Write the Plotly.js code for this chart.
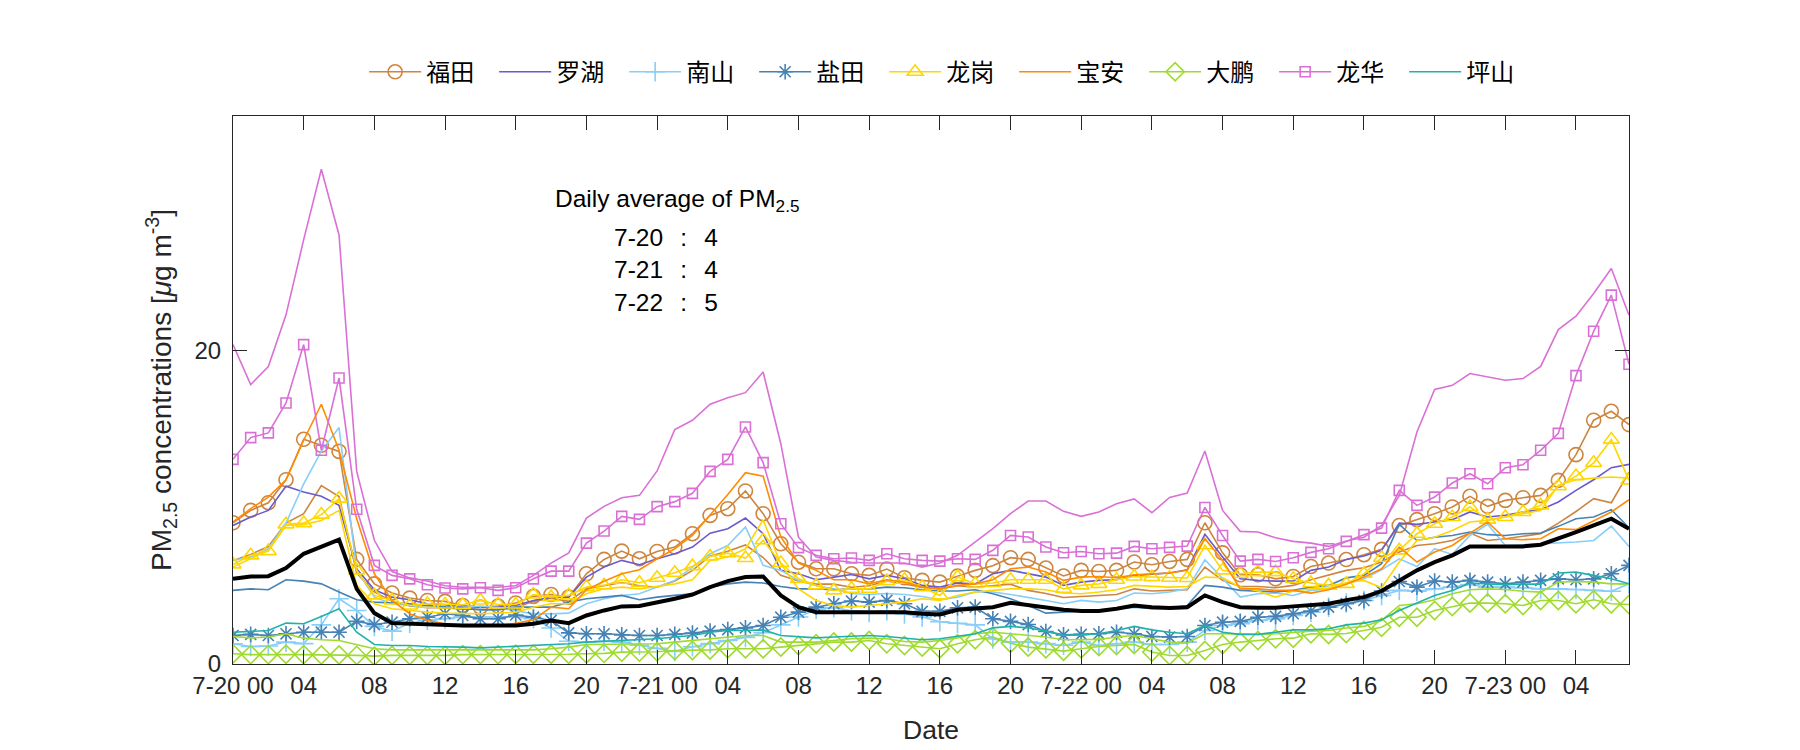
<!DOCTYPE html>
<html>
<head>
<meta charset="utf-8">
<script src="https://cdn.plot.ly/plotly-3.0.1.min.js"></script>
<style>html,body{margin:0;padding:0;background:#fff;}</style>
</head>
<body>
<div id="chart" style="width:1800px;height:750px;"></div>
<script>
// Hourly index from 7-20 00:00 to 7-23 07:00 (80 hours)
const hours = Array.from({length: 80}, (_, i) => i);
const tickHours = [0,4,8,12,16,20,24,28,32,36,40,44,48,52,56,60,64,68,72,76];
const tickLabels = ['7-20 00','04','08','12','16','20','7-21 00','04','08','12','16','20','7-22 00','04','08','12','16','20','7-23 00','04'];

const futianA = [9.02,9.81,10.3,11.77,14.35,13.97,13.58,6.68,5.12,4.53,4.21,4.06,4.0,3.74,3.63,3.7,3.9,4.32,4.44,4.27,5.76,6.68,7.21,6.72,7.19,7.47,8.32,9.49,9.92,11.05,9.6,7.68,6.5,6.08,6.08,5.76,5.66,6.06,5.51,5.34,5.23,5.61,5.98,6.28,6.79,6.68,6.13,5.62,5.98,5.91,5.98,6.51,6.34,6.55,6.68,9.02,7.1,5.7,5.7,5.44,5.59,6.23,6.45,6.67,6.98,7.32,8.85,9.22,9.6,10.03,10.71,10.07,10.45,10.62,10.77,11.73,13.37,15.57,16.14,15.29];
const futianB = [6.6,7.0,7.5,9.0,9.6,11.4,10.7,5.8,4.6,4.0,3.7,3.6,3.6,3.5,3.5,3.5,3.6,4.0,4.2,4.0,4.8,5.0,5.2,5.0,4.9,5.3,5.98,6.9,7.2,7.6,6.8,5.66,5.3,5.1,5.1,4.9,5.0,5.3,5.1,4.9,4.8,5.0,4.9,5.0,5.1,4.7,4.5,4.25,4.3,4.38,4.44,4.8,4.66,4.7,4.74,6.19,5.34,4.95,4.95,4.87,5.02,5.38,5.66,5.98,6.15,6.51,7.15,7.57,7.68,7.89,8.36,7.89,8.0,8.15,8.32,9.0,9.74,10.56,10.3,12.26];
const luohu = [8.85,9.39,9.81,11.35,10.99,10.71,10.13,6.08,4.74,4.27,4.1,3.85,3.78,3.63,3.63,3.63,3.74,4.06,4.27,4.27,5.55,6.19,6.62,6.34,6.72,7.04,7.47,8.36,8.64,9.32,8.32,5.98,5.76,5.38,5.55,5.72,5.44,5.66,5.44,5.02,4.91,5.17,5.12,5.76,5.98,5.76,5.55,5.02,5.23,5.34,5.38,5.66,5.72,5.81,6.02,8.28,6.83,5.44,5.34,5.29,5.29,5.98,6.19,6.67,6.9,7.26,9.0,8.92,9.07,9.22,9.71,9.39,9.5,9.71,9.86,10.35,11.09,11.77,12.54,12.75];
const nanshanA = [1.29,1.12,1.15,1.4,1.3,2.5,4.17,3.42,2.4,2.1,2.6,2.8,2.9,3.0,3.0,3.0,3.0,2.9,2.3,1.45,1.4,1.45,1.4,1.2,1.0,0.8,1.1,1.3,1.5,1.7,2.0,2.5,3.0,3.5,3.6,3.4,3.3,3.4,3.2,3.0,2.7,2.6,2.5,1.6,1.4,1.4,1.3,1.2,1.4,1.18,1.29,1.4,1.25,1.25,1.4,2.14,2.46,2.57,2.78,2.88,3.1,3.31,3.63,3.9,4.06,4.38,4.7,4.65,4.8,4.91,5.08,4.91,4.91,4.87,4.8,4.8,4.76,4.7,4.65,5.12];
const nanshanB = [6.62,6.83,7.36,9.0,11.5,13.6,15.1,5.98,4.27,3.85,3.74,3.63,3.63,3.6,3.7,3.6,3.4,3.2,3.2,3.25,3.85,4.17,4.38,4.49,4.91,5.34,6.19,7.04,7.57,8.75,6.3,5.98,5.34,5.0,4.8,4.5,4.44,4.5,4.44,4.31,4.1,4.27,4.6,4.6,4.44,4.27,4.06,3.85,4.06,3.95,4.06,4.53,4.49,4.6,4.8,6.66,5.44,4.27,4.49,4.53,4.38,4.7,4.8,5.1,5.44,6.02,6.72,6.23,7.36,7.0,8.21,8.92,7.57,7.62,7.68,7.72,7.79,7.89,8.81,7.51];
const yantianA = [1.82,1.89,1.82,1.93,2.03,2.03,2.03,2.72,2.52,2.67,2.89,2.99,3.21,3.1,2.89,2.89,3.13,2.99,2.78,1.99,1.93,1.93,1.86,1.82,1.82,1.89,1.97,2.1,2.2,2.31,2.46,2.99,3.31,3.63,3.85,4.02,3.95,4.06,3.85,3.36,3.36,3.59,3.63,2.89,2.72,2.52,2.08,1.86,1.89,1.93,2.03,1.93,1.76,1.72,1.76,2.46,2.67,2.72,2.99,3.04,3.21,3.38,3.63,3.85,4.06,4.66,5.27,4.91,5.3,5.23,5.34,5.23,5.12,5.23,5.34,5.44,5.38,5.44,5.76,6.3];
const yantianB = [4.7,4.8,4.74,5.38,5.29,5.12,4.6,4.1,3.95,3.89,3.85,3.74,3.63,3.57,3.46,3.46,3.63,3.63,3.63,3.95,4.17,4.27,4.38,4.1,4.27,4.38,4.49,4.91,5.12,5.23,5.17,4.95,4.8,4.8,4.74,4.8,4.8,4.91,4.87,4.74,4.66,4.66,4.74,4.49,4.17,3.74,3.25,3.31,3.38,3.42,3.53,3.63,3.53,3.57,3.74,5.02,4.91,4.7,4.66,4.6,4.7,4.91,5.02,5.5,5.66,6.4,8.92,7.89,8.1,8.21,8.43,8.26,8.21,8.32,8.36,8.79,9.28,9.39,9.86,8.7];
const longgangA = [6.36,6.94,7.21,8.92,9.0,9.54,10.56,5.98,4.38,4.06,3.74,3.85,3.8,3.78,4.06,3.8,3.8,4.44,4.27,4.38,4.91,5.02,5.38,5.19,5.51,5.83,6.25,6.87,7.08,6.77,7.9,6.45,5.44,5.02,4.7,4.8,4.8,5.29,5.38,4.91,4.38,5.55,5.12,5.17,5.38,5.38,5.38,4.8,5.02,5.12,5.38,5.59,5.55,5.51,5.49,7.58,5.98,5.76,5.87,5.87,5.44,5.17,5.02,5.12,5.76,6.79,7.26,8.32,8.96,9.39,10.03,9.22,9.39,9.71,10.13,11.35,12.0,12.85,14.33,11.73];
const longgangB = [6.2,6.72,7.25,8.85,8.9,9.17,9.81,5.02,3.85,3.53,3.42,3.31,3.25,3.21,3.21,3.25,3.31,3.63,3.85,3.85,4.49,4.8,4.91,4.8,4.95,5.12,5.38,6.62,6.83,7.36,9.2,6.4,4.8,4.06,3.74,3.63,3.74,3.85,3.95,4.17,4.06,4.38,4.6,4.7,4.8,4.8,4.74,4.53,4.49,4.6,4.74,5.02,4.95,4.91,4.95,5.55,5.51,4.91,4.66,4.27,4.66,4.8,4.87,5.2,5.34,4.87,6.51,7.89,8.1,8.53,9.07,9.17,9.39,9.6,9.81,11.41,11.77,11.87,11.94,11.87];
const baoan = [9.07,9.92,10.66,11.77,14.29,16.59,13.65,9.28,5.76,4.06,3.21,2.78,2.57,2.4,2.4,2.46,2.6,2.82,3.63,3.53,4.74,5.29,5.76,6.02,6.72,7.36,8.21,9.49,10.83,12.22,12.0,8.11,6.45,5.98,5.38,5.38,5.12,5.38,5.23,4.91,4.8,5.02,5.12,5.38,6.08,6.19,5.87,5.34,5.55,5.59,5.51,5.7,5.76,5.81,5.98,8.0,6.62,4.8,4.8,4.7,4.7,4.53,4.74,5.1,5.55,6.08,7.47,6.51,7.15,7.57,8.36,9.07,8.0,7.94,8.0,8.64,8.58,9.17,9.71,10.49];
const dapengA = [0.65,0.6,0.6,0.62,0.6,0.58,0.58,0.55,0.5,0.55,0.55,0.55,0.55,0.6,0.6,0.6,0.62,0.62,0.62,0.62,0.65,0.68,0.76,0.76,0.78,0.86,0.86,0.9,0.97,0.97,0.97,1.08,1.18,1.29,1.4,1.4,1.5,1.29,1.18,1.08,0.97,1.29,1.55,1.72,1.33,1.08,0.97,0.82,0.97,1.12,1.18,1.25,0.76,0.54,0.54,0.86,1.25,1.4,1.5,1.61,1.65,1.93,1.89,1.95,2.14,2.35,2.99,2.99,3.42,3.67,3.89,3.89,3.85,3.74,4.06,4.06,3.85,4.1,3.85,3.8];
const dapengB = [1.76,1.67,1.72,1.93,1.65,1.55,1.5,1.25,0.97,0.9,0.9,0.9,0.88,0.88,0.88,0.9,0.9,0.9,0.97,1.08,1.25,1.25,1.29,1.29,1.29,1.4,1.5,1.61,1.72,1.82,1.82,1.4,1.4,1.4,1.5,1.61,1.65,1.61,1.44,1.4,1.5,1.67,1.93,2.03,1.93,1.82,1.72,1.55,1.55,1.57,1.72,1.82,1.61,1.4,1.33,1.93,1.93,1.89,1.89,1.93,2.03,2.1,2.14,2.3,2.4,2.78,3.74,3.85,4.1,4.49,4.74,4.8,4.76,4.65,4.59,5.23,5.27,5.23,5.12,5.12];
const longhuaA = [13.07,14.46,14.76,16.67,20.4,13.65,18.27,9.88,6.3,5.66,5.44,5.06,4.85,4.8,4.87,4.7,4.87,5.44,5.93,5.93,7.72,8.49,9.43,9.24,10.05,10.37,10.9,12.3,13.07,15.14,12.86,8.96,7.43,6.94,6.72,6.77,6.62,7.04,6.72,6.62,6.57,6.72,6.68,7.26,8.21,8.11,7.47,7.11,7.19,7.04,7.08,7.51,7.36,7.45,7.53,10.0,8.21,6.57,6.68,6.55,6.79,7.13,7.36,7.83,8.26,8.68,11.09,10.13,10.66,11.56,12.15,11.51,12.53,12.73,13.65,14.73,18.42,21.25,23.56,19.14];
const longhuaB = [20.4,17.85,19.0,22.3,27.1,31.6,27.4,12.3,7.9,5.9,5.5,5.3,5.0,4.9,4.9,4.9,5.0,5.66,6.44,7.1,9.32,10.07,10.62,10.77,12.33,14.97,15.57,16.59,17.01,17.33,18.65,14.07,8.1,6.83,6.62,6.5,6.45,6.45,6.45,6.19,6.45,6.94,7.79,8.64,9.6,10.41,10.41,9.75,9.43,9.71,10.24,10.54,9.66,10.64,10.92,13.6,9.81,8.47,8.43,8.06,7.83,7.72,7.51,7.85,8.1,8.85,10.77,14.82,17.53,17.8,18.55,18.34,18.12,18.23,19.01,21.36,22.21,23.66,25.26,22.28];
const pingshan = [2.03,2.1,2.14,2.61,2.57,3.04,3.53,2.03,1.25,1.18,1.18,1.12,1.12,1.08,1.03,1.08,1.12,1.18,1.23,1.29,1.4,1.46,1.5,1.55,1.61,1.72,1.82,2.03,2.14,2.14,2.18,1.82,1.76,1.67,1.72,1.76,1.82,1.76,1.65,1.55,1.61,1.76,1.93,2.31,2.4,2.31,2.1,1.84,1.86,1.93,2.14,2.4,2.18,2.03,1.93,2.46,2.03,1.89,1.89,2.03,2.18,2.18,2.25,2.5,2.61,2.82,3.42,3.89,4.38,4.7,5.17,5.12,5.06,5.1,5.1,5.81,5.87,5.66,5.44,5.12];
const average = [5.44,5.59,5.61,6.13,7.04,7.47,7.94,4.8,3.25,2.61,2.57,2.5,2.5,2.46,2.46,2.46,2.46,2.57,2.78,2.61,3.1,3.42,3.68,3.7,3.91,4.17,4.44,4.91,5.29,5.55,5.59,4.38,3.63,3.31,3.31,3.31,3.27,3.31,3.31,3.21,3.16,3.46,3.53,3.63,3.91,3.74,3.63,3.46,3.38,3.38,3.53,3.74,3.63,3.57,3.63,4.38,3.95,3.63,3.59,3.59,3.68,3.74,3.85,4.08,4.27,4.66,5.34,5.98,6.51,6.94,7.51,7.51,7.47,7.51,7.62,8.0,8.43,8.85,9.28,8.64];

const dailyNote = ['7-20\u2002\u2009:\u2002\u20094', '7-21\u2002\u2009:\u2002\u20094', '7-22\u2002\u2009:\u2002\u20095'];

const FONT = 'Liberation Sans, Arial, Noto Sans CJK SC, sans-serif';
const AX = '#262626';

function tr(name, y, color, opts) {
  opts = opts || {};
  const t = {
    x: hours, y: y, name: name, type: 'scatter',
    mode: opts.symbol ? 'lines+markers' : 'lines',
    line: {color: color, width: opts.width || 1.6},
    showlegend: opts.legend !== false,
    hoverinfo: 'x+y+name'
  };
  if (opts.symbol) {
    t.marker = {symbol: opts.symbol, size: opts.size || 13, color: color,
                line: {color: color, width: 1.6}};
  }
  return t;
}

const C = {
  futian: '#CD853F', luohu: '#6A5ACD', nanshan: '#87CEFA', yantian: '#4682B4',
  longgang: '#FFD700', baoan: '#FF8C00', dapeng: '#9FDB2E', longhua: '#DA70D6',
  pingshan: '#20B2AA'
};

const data = [
  tr('福田', futianA, C.futian, {symbol: 'circle-open', size: 14}),
  tr('福田2', futianB, C.futian, {legend: false}),
  tr('罗湖', luohu, C.luohu),
  tr('南山', nanshanA, C.nanshan, {symbol: 'cross-thin-open', size: 14}),
  tr('南山2', nanshanB, C.nanshan, {legend: false}),
  tr('盐田', yantianA, C.yantian, {symbol: 'asterisk-open', size: 13}),
  tr('盐田2', yantianB, C.yantian, {legend: false}),
  tr('龙岗', longgangA, C.longgang, {symbol: 'triangle-up-open', size: 14}),
  tr('龙岗2', longgangB, C.longgang, {legend: false}),
  tr('宝安', baoan, C.baoan),
  tr('大鹏', dapengA, C.dapeng, {symbol: 'diamond-open', size: 14}),
  tr('大鹏2', dapengB, C.dapeng, {legend: false}),
  tr('龙华', longhuaA, C.longhua, {symbol: 'square-open', size: 10}),
  tr('龙华2', longhuaB, C.longhua, {legend: false}),
  tr('坪山', pingshan, C.pingshan),
  tr('Average', average, '#000000', {legend: false, width: 4})
];

const annotations = [
  {text: 'Daily average of PM<sub>2.5</sub>', x: 0.318, y: 0.845},
  {text: dailyNote[0], x: 0.310, y: 0.779},
  {text: dailyNote[1], x: 0.310, y: 0.720},
  {text: dailyNote[2], x: 0.310, y: 0.660}
].map(a => Object.assign({xref: 'paper', yref: 'paper', showarrow: false,
  xanchor: 'center', yanchor: 'middle', font: {family: FONT, size: 24.5, color: '#000'}}, a));

const axisCommon = {
  showline: true, linecolor: AX, linewidth: 1, mirror: 'ticks',
  ticks: 'inside', ticklen: 14, tickwidth: 1, tickcolor: AX,
  showgrid: false, zeroline: false,
  tickfont: {family: FONT, size: 24, color: AX}
};

const layout = {
  width: 1800, height: 750,
  margin: {l: 233, r: 171, t: 116, b: 86, pad: 0},
  paper_bgcolor: '#fff', plot_bgcolor: '#fff',
  font: {family: FONT, size: 24, color: AX},
  showlegend: true,
  legend: {orientation: 'h', x: 0.513, xanchor: 'center', y: 1.08, yanchor: 'middle',
           font: {family: FONT, size: 24, color: '#000'}, bgcolor: 'rgba(0,0,0,0)',
           itemwidth: 52, entrywidth: 63, entrywidthmode: 'pixels', traceorder: 'normal'},
  xaxis: Object.assign({}, axisCommon, {
    range: [0, 79], tickmode: 'array', tickvals: tickHours, ticktext: tickLabels,
    title: {text: 'Date', font: {family: FONT, size: 26.5, color: AX}, standoff: 22}
  }),
  yaxis: Object.assign({}, axisCommon, {
    range: [0, 35], tickmode: 'array', tickvals: [0, 20], ticklabelstandoff: 6,
    title: {text: 'PM<sub>2.5</sub> concentrations [<i>μ</i>g m<sup>-3</sup>]',
            font: {family: FONT, size: 28, color: AX}, standoff: 14}
  }),
  annotations: annotations
};

Plotly.newPlot('chart', data, layout, {displayModeBar: false, staticPlot: true});
</script>
</body>
</html>
